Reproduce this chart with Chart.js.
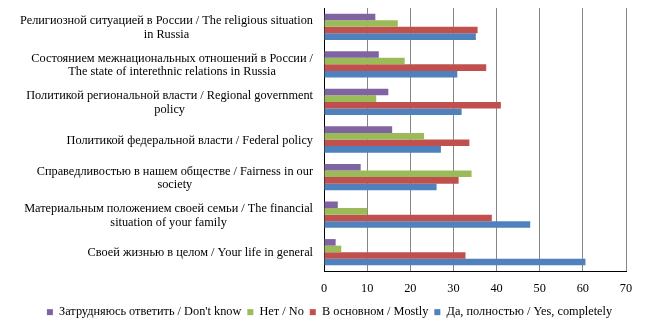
<!DOCTYPE html>
<html>
<head>
<meta charset="utf-8">
<script src="https://cdn.jsdelivr.net/npm/chart.js@4"></script>
<style>
html,body{margin:0;padding:0;background:#fff;}
#wrap{width:646px;height:321px;position:relative;}
</style>
</head>
<body>
<div id="wrap"><canvas id="c" width="646" height="321"></canvas></div>
<script>
const categories = [
  ["Религиозной ситуацией в России / The religious situation", "in Russia"],
  ["Состоянием межнациональных отношений в России /", "The state of interethnic relations in Russia"],
  ["Политикой региональной власти / Regional government", "policy"],
  ["Политикой федеральной власти / Federal policy"],
  ["Справедливостью в нашем обществе / Fairness in our", "society"],
  ["Материальным положением своей семьи / The financial", "situation of your family"],
  ["Своей жизнью в целом / Your life in general"]
];
const seriesNames = ["Затрудняюсь ответить / Don't know", "Нет / No", "В основном / Mostly", "Да, полностью / Yes, completely"];
const dontKnow = [11.9, 12.7, 14.9, 15.8, 8.5, 3.2, 2.7];
const no = [17.1, 18.7, 12.1, 23.2, 34.2, 10.0, 4.0];
const mostly = [35.6, 37.6, 41.0, 33.7, 31.2, 38.9, 32.8];
const yesCompletely = [35.2, 30.9, 31.9, 27.1, 26.1, 47.8, 60.6];
const xTicks = [0, 10, 20, 30, 40, 50, 60, 70];

const colors = ["#8064A2", "#9BBB59", "#C0504D", "#4F81BD"];
const FONT = '"Liberation Serif", "Times New Roman", serif';
const PAD_LEFT = 33;

const yLabelPlugin = {
  id: 'yLabels',
  afterDraw(chart) {
    const ctx = chart.ctx;
    const ys = chart.scales.y;
    const right = chart.chartArea.left - 11;
    ctx.save();
    ctx.font = '12.3px ' + FONT;
    ctx.fillStyle = '#000';
    ctx.textAlign = 'center';
    ctx.textBaseline = 'middle';
    const lh = 13.5;
    chart.data.labels.forEach((lab, i) => {
      const lines = Array.isArray(lab) ? lab : [lab];
      const w = Math.max(...lines.map(l => ctx.measureText(l).width));
      const cx = right - w / 2;
      const cy = ys.getPixelForTick(i) + 1;
      const start = cy - (lines.length - 1) * lh / 2;
      lines.forEach((l, k) => ctx.fillText(l, cx, start + k * lh));
    });
    ctx.restore();
  }
};

const data = {
  labels: categories,
  datasets: [dontKnow, no, mostly, yesCompletely].map((d, i) => ({
    label: seriesNames[i],
    data: d,
    backgroundColor: colors[i],
    borderWidth: 0,
    categoryPercentage: 0.7,
    barPercentage: 1.0
  }))
};

new Chart(document.getElementById('c'), {
  type: 'bar',
  data,
  plugins: [yLabelPlugin],
  options: {
    indexAxis: 'y',
    responsive: false,
    animation: false,
    layout: { padding: { top: 8, right: 20, left: PAD_LEFT, bottom: 0 } },
    plugins: {
      tooltip: { enabled: false },
      legend: {
        position: 'bottom',
        maxHeight: 21,
        labels: {
          boxWidth: 6,
          boxHeight: 6,
          padding: 6,
          color: '#000',
          font: { family: FONT, size: 12.3 }
        }
      }
    },
    scales: {
      x: {
        min: 0,
        max: 70,
        afterBuildTicks(scale) { scale.ticks = xTicks.map(v => ({ value: v })); },
        afterFit(scale) { scale.height = 29; },
        ticks: {
          color: '#000',
          padding: 10,
          font: { family: FONT, size: 12.3 }
        },
        grid: { color: '#868686', lineWidth: 1, drawTicks: false },
        border: { color: '#000', width: 1 }
      },
      y: {
        afterFit(scale) { scale.width = 324 - PAD_LEFT; },
        ticks: { display: false },
        grid: { display: false, drawTicks: false },
        border: { color: '#000', width: 1 }
      }
    }
  }
});
</script>
</body>
</html>
